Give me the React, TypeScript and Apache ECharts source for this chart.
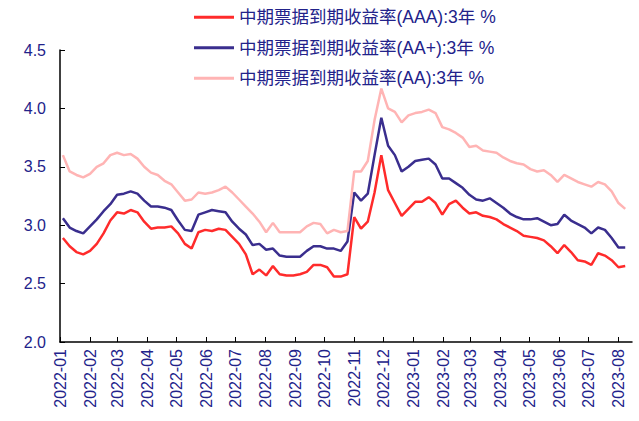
import { useEffect, useRef } from "react";
import * as echarts from "echarts";

// weekly observation dates (Tuesdays), 2022-01-04 .. 2023-08-08
const firstDate = "2022-01-04";
const weekCount = 84;
const dates: string[] = [];
{
  const base = new Date(firstDate + "T00:00:00");
  for (let i = 0; i < weekCount; i++) {
    const d = new Date(base.getTime());
    d.setDate(base.getDate() + i * 7);
    dates.push(
      `${d.getFullYear()}-${String(d.getMonth() + 1).padStart(2, "0")}-${String(d.getDate()).padStart(2, "0")}`
    );
  }
}

const seriesNames = [
  "中期票据到期收益率(AAA):3年 %",
  "中期票据到期收益率(AA+):3年 %",
  "中期票据到期收益率(AA):3年 %",
];

const aaa = [
  2.89, 2.82, 2.77, 2.75, 2.78, 2.84, 2.93, 3.04, 3.11, 3.1,
  3.13, 3.11, 3.03, 2.97, 2.98, 2.98, 2.99, 2.93, 2.84, 2.8,
  2.94, 2.96, 2.95, 2.97, 2.96, 2.9, 2.84, 2.75, 2.58, 2.62,
  2.57, 2.65, 2.58, 2.57, 2.57, 2.58, 2.6, 2.66, 2.66, 2.64,
  2.56, 2.56, 2.58, 3.07, 2.97, 3.03, 3.28, 3.6, 3.3, 3.19,
  3.08, 3.14, 3.2, 3.2, 3.24, 3.19, 3.09, 3.18, 3.21, 3.15,
  3.1, 3.11, 3.08, 3.07, 3.05, 3.01, 2.98, 2.95, 2.91, 2.9,
  2.89, 2.87, 2.82, 2.76, 2.83, 2.77, 2.7, 2.69, 2.66, 2.76,
  2.74, 2.7, 2.64, 2.65,
];

const aaPlus = [
  3.06, 2.98, 2.95, 2.93, 2.99, 3.05, 3.12, 3.18, 3.26, 3.27,
  3.29, 3.27, 3.21, 3.16, 3.16, 3.15, 3.13, 3.04, 2.96, 2.95,
  3.09, 3.11, 3.13, 3.12, 3.11, 3.03, 2.97, 2.92, 2.83, 2.84,
  2.79, 2.8, 2.74, 2.73, 2.73, 2.73, 2.78, 2.82, 2.82, 2.8,
  2.8, 2.78, 2.86, 3.28, 3.21, 3.27, 3.6, 3.92, 3.68, 3.6,
  3.46, 3.5, 3.55, 3.56, 3.57, 3.52, 3.4, 3.4, 3.36, 3.32,
  3.26, 3.22, 3.21, 3.23, 3.19, 3.15, 3.1, 3.07, 3.05, 3.05,
  3.06, 3.03, 3.0, 3.01, 3.09, 3.04, 3.01, 2.98, 2.93, 2.98,
  2.96, 2.89, 2.81, 2.81,
];

const aa = [
  3.6, 3.46, 3.43, 3.41, 3.44, 3.5, 3.53, 3.6, 3.62, 3.6,
  3.61, 3.57, 3.5, 3.45, 3.43, 3.38, 3.35, 3.28, 3.21, 3.22,
  3.28, 3.27, 3.28, 3.3, 3.33, 3.28, 3.22, 3.16, 3.1, 3.03,
  2.94, 3.02, 2.94, 2.94, 2.94, 2.94, 2.99, 3.02, 3.01, 2.93,
  2.96, 2.94, 2.95, 3.46, 3.46, 3.55, 3.9, 4.17, 4.0, 3.97,
  3.88, 3.94, 3.96, 3.97, 3.99, 3.96, 3.84, 3.82, 3.79, 3.75,
  3.67, 3.68, 3.64, 3.63, 3.62, 3.58, 3.55, 3.53, 3.52, 3.48,
  3.46, 3.47, 3.43, 3.37, 3.43, 3.4, 3.37, 3.35, 3.33, 3.37,
  3.35, 3.29, 3.19, 3.14,
];

const seriesValues = [aaa, aaPlus, aa];
const seriesColors = ["#FF2B2B", "#3A2E8E", "#FFB4B4"];

const axisMin = "2022-01-01";
const axisMax = "2023-08-15";
const yMin = 2.0;
const yMax = 4.5;
const yStep = 0.5;

const navy = "#22228A";
const fontFamily = "'Liberation Sans', Arial, 'Noto Sans CJK SC', sans-serif";

export default function App() {
  const ref = useRef<HTMLDivElement>(null);

  useEffect(() => {
    document.body.style.margin = "0";
    if (!ref.current) return;
    const chart = echarts.init(ref.current, undefined, { renderer: "svg" });
    chart.setOption({
      animation: false,
      backgroundColor: "#ffffff",
      legend: {
        orient: "vertical",
        left: 194,
        top: 7,
        padding: 0,
        icon: "rect",
        itemWidth: 40,
        itemHeight: 3,
        itemGap: 10,
        textStyle: { color: navy, fontSize: 17.5, fontFamily, lineHeight: 20.5 },
        data: seriesNames,
      },
      grid: { left: 60, right: 7, top: 50, bottom: 79, containLabel: false },
      xAxis: {
        type: "time",
        min: axisMin,
        max: axisMax,
        splitNumber: 20,
        maxInterval: 31 * 24 * 3600 * 1000,
        axisLine: { show: true, lineStyle: { color: "#000", width: 1.5 } },
        axisTick: { show: true, inside: true, length: 5, lineStyle: { color: "#000" } },
        splitLine: { show: false },
        axisLabel: {
          rotate: 90,
          margin: 7,
          color: navy,
          fontSize: 16,
          fontFamily,
          showMaxLabel: false,
          formatter: (val: number) => {
            const d = new Date(val);
            return `${d.getFullYear()}-${String(d.getMonth() + 1).padStart(2, "0")}`;
          },
        },
      },
      yAxis: {
        type: "value",
        min: yMin,
        max: yMax,
        interval: yStep,
        axisLine: { show: true, lineStyle: { color: "#000", width: 1.5 } },
        axisTick: { show: true, inside: true, length: 5, lineStyle: { color: "#000" } },
        splitLine: { show: false },
        axisLabel: {
          color: navy,
          fontSize: 16,
          fontFamily,
          margin: 14,
          formatter: (v: number) => v.toFixed(1),
        },
      },
      series: seriesNames.map((name, i) => ({
        name,
        type: "line",
        showSymbol: false,
        symbol: "none",
        color: seriesColors[i],
        lineStyle: { width: 2.5, color: seriesColors[i] },
        data: dates.map((d, j) => [d, seriesValues[i][j]]),
      })),
    });
    return () => chart.dispose();
  }, []);

  return <div ref={ref} style={{ width: 639, height: 421 }} />;
}
